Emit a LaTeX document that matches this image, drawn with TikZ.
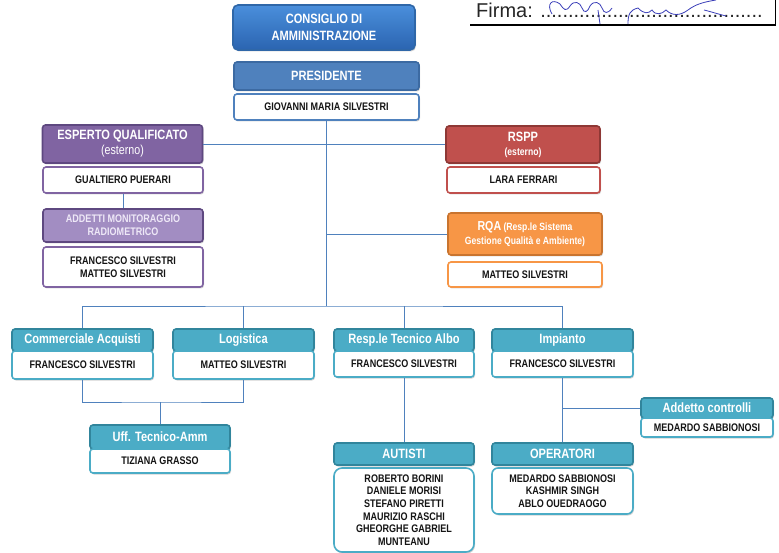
\documentclass[tikz,border=0pt]{standalone}
\usepackage{fontspec}
\setmainfont{Liberation Sans}[FakeStretch=0.82]
\newfontfamily\firmafont{Liberation Sans}
\usetikzlibrary{shadows}
\definecolor{cdatop}{HTML}{4A8FDC}
\definecolor{cdabot}{HTML}{2B64B0}
\definecolor{cdabrd}{HTML}{2F67A8}
\definecolor{presf}{HTML}{4F81BD}
\definecolor{presb}{HTML}{3C6AA2}
\definecolor{purf}{HTML}{8064A2}
\definecolor{purb}{HTML}{5E4880}
\definecolor{lpurf}{HTML}{A28DC2}
\definecolor{lpurt}{HTML}{EEE8F7}
\definecolor{redf}{HTML}{C0504D}
\definecolor{redb}{HTML}{8E3835}
\definecolor{orf}{HTML}{F79646}
\definecolor{orb}{HTML}{C9742F}
\definecolor{tealf}{HTML}{4BACC6}
\definecolor{tealb}{HTML}{31859C}
\definecolor{conncol}{HTML}{4F81BD}
\definecolor{txt}{HTML}{141414}
\definecolor{sig}{HTML}{3B3FB8}
\tikzset{
  boxshadow/.style={drop shadow={shadow xshift=1pt,shadow yshift=-1.5pt,opacity=0.35}},
  hdr/.style={draw, rounded corners=3pt, line width=1.6pt, text=white, align=center,
    inner sep=1pt, boxshadow, font=\bfseries\fontsize{13.5}{14}\selectfont},
  body/.style={draw, fill=white, rounded corners=3pt, line width=1.6pt, text=txt, align=center,
    inner sep=1pt, boxshadow, font=\bfseries\fontsize{11}{12.7}\selectfont},
  theader/.style={hdr, fill=tealf, draw=tealb, minimum height=22pt},
  tbody/.style={body, draw=tealf},
  conn/.style={draw=conncol, line width=0.9pt},
}
\begin{document}
\begin{tikzpicture}[x=1pt,y=-1pt]
\useasboundingbox (0,0) rectangle (779,553);
% Firma
\draw[line width=1.6pt] (470,25) -- (775.5,25) -- (775.5,0);
\node[anchor=base west, inner sep=0, font=\firmafont\fontsize{20}{20}\selectfont, text=black!85] (firma) at (476,18) {Firma: ........................................};
\draw[sig, line width=0.8pt] (552,14) .. controls (546,4) and (552,-2) .. (560,4) .. controls (564,10) and (566,12) .. (570,6) .. controls (574,0) and (580,2) .. (582,8) .. controls (584,14) and (588,12) .. (590,6) .. controls (594,0) and (600,2) .. (602,8) .. controls (604,14) and (608,14) .. (612,8)
  (598,10) -- (600,24)
  (628,24) .. controls (628,14) and (630,10) .. (638,8) .. controls (644,14) and (648,14) .. (652,10) .. controls (656,16) and (662,14) .. (666,10) .. controls (672,16) and (680,16) .. (688,10) .. controls (696,4) and (704,2) .. (716,0)
  (704,10) .. controls (712,12) and (718,14) .. (726,16);
% Top
\node[hdr, top color=cdatop, bottom color=cdabot, draw=cdabrd, minimum width=182pt, minimum height=45pt, rounded corners=5pt, font=\bfseries\fontsize{13.5}{17}\selectfont] (cda) at (324,27.5) {CONSIGLIO DI\\AMMINISTRAZIONE};
\node[hdr, fill=presf, draw=presb, minimum width=185pt, minimum height=28pt] (pres) at (326.5,76) {PRESIDENTE};
\node[body, draw=presf, minimum width=185pt, minimum height=26pt] (gms) at (326.5,107) {GIOVANNI MARIA SILVESTRI};
% Left purple
\node[hdr, fill=purf, draw=purb, minimum width=160pt, minimum height=38pt, font=\bfseries\fontsize{13.5}{16}\selectfont] (eq) at (122.5,144) {ESPERTO QUALIFICATO\\[-1pt]{\mdseries\fontsize{13}{13}\selectfont (esterno)}};
\node[body, draw=purf, minimum width=160pt, minimum height=26pt] (gp) at (123,180) {GUALTIERO PUERARI};
\node[hdr, fill=lpurf, draw=purb, text=lpurt, minimum width=160pt, minimum height=33pt, font=\bfseries\fontsize{11}{13}\selectfont] (amr) at (123,225.5) {ADDETTI MONITORAGGIO\\RADIOMETRICO};
\node[body, draw=purf, minimum width=160pt, minimum height=40pt] (fsms) at (123,267) {FRANCESCO SILVESTRI\\MATTEO SILVESTRI};
% Right red/orange
\node[hdr, fill=redf, draw=redb, minimum width=154pt, minimum height=37pt, font=\bfseries\fontsize{13.5}{15}\selectfont] (rspp) at (523,144.5) {RSPP\\[-1pt]{\fontsize{10.5}{11}\selectfont (esterno)}};
\node[body, draw=redf, minimum width=153pt, minimum height=26pt] (lf) at (523.5,180) {LARA FERRARI};
\node[hdr, fill=orf, draw=orb, minimum width=154pt, minimum height=42pt, font=\bfseries\fontsize{10.5}{14}\selectfont] (rqa) at (525,234) {{\fontsize{13}{14}\selectfont RQA} (Resp.le Sistema\\Gestione Qualità e Ambiente)};
\node[body, draw=orf, minimum width=154pt, minimum height=25pt] (ms) at (525,274.5) {MATTEO SILVESTRI};
% Bottom row
\node[theader, minimum width=141pt] (cah) at (82.5,340) {Commerciale Acquisti};
\node[tbody, minimum width=141pt, minimum height=28pt] (cab) at (82.5,365) {FRANCESCO SILVESTRI};
\node[theader, minimum width=141pt] (logh) at (243.5,340) {Logistica};
\node[tbody, minimum width=141pt, minimum height=28pt] (logb) at (243.5,365) {MATTEO SILVESTRI};
\node[theader, minimum width=140pt] (rtah) at (404,340) {Resp.le Tecnico Albo};
\node[tbody, minimum width=140pt, minimum height=26pt] (rtab) at (404,364) {FRANCESCO SILVESTRI};
\node[theader, minimum width=141pt] (imph) at (562.5,340) {Impianto};
\node[tbody, minimum width=141pt, minimum height=26pt] (impb) at (562.5,364) {FRANCESCO SILVESTRI};
% Lower
\node[theader, minimum width=140pt, minimum height=24pt] (uffh) at (160,437) {Uff. Tecnico-Amm};
\node[tbody, minimum width=140pt, minimum height=24pt] (uffb) at (160,461) {TIZIANA GRASSO};
\node[theader, minimum width=140pt] (auth) at (404,454) {AUTISTI};
\node[tbody, minimum width=140pt, minimum height=84pt, rounded corners=8pt] (autb) at (404,510) {ROBERTO BORINI\\DANIELE MORISI\\STEFANO PIRETTI\\MAURIZIO RASCHI\\GHEORGHE GABRIEL\\MUNTEANU};
\node[theader, minimum width=141pt] (oph) at (562.5,454) {OPERATORI};
\node[tbody, minimum width=141pt, minimum height=46pt, rounded corners=6pt] (opb) at (562.5,491) {MEDARDO SABBIONOSI\\KASHMIR SINGH\\ABLO OUEDRAOGO};
\node[theader, minimum width=132pt, minimum height=20pt] (addh) at (707,408) {Addetto controlli};
\node[tbody, minimum width=132pt, minimum height=19pt] (addb) at (707,427.5) {MEDARDO SABBIONOSI};
% Connectors
\coordinate (j0) at (326,306);
\coordinate (j1) at (160,402);
\draw[conn] (gms.south -| j0) -- (j0);
\draw[conn] (eq.east) -- (eq.east -| j0);
\draw[conn] (rspp.west) -- (rspp.west -| j0);
\draw[conn] (rqa.west) -- (rqa.west -| j0);
\draw[conn] (gp.south) -- (amr.north);
\draw[conn] (cah.north) |- (j0) -| (imph.north);
\draw[conn] (logh.north) -- (logh.north |- j0);
\draw[conn] (rtah.north) -- (rtah.north |- j0);
\draw[conn] (cab.south) |- (j1) -| (logb.south);
\draw[conn] (j1) -- (uffh.north);
\draw[conn] (rtab.south) -- (auth.north);
\draw[conn] (impb.south) -- (oph.north);
\draw[conn] (addh.west) -- (addh.west -| impb.south);
\end{tikzpicture}
\end{document}
